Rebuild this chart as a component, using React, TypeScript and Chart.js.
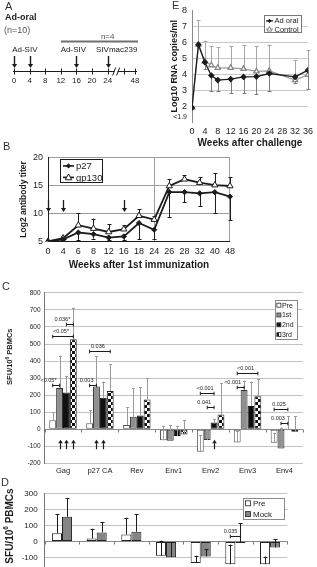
import React, { useEffect, useRef } from 'react';
import { Chart, registerables } from 'chart.js';

Chart.register(...registerables);

const FONT = '"Liberation Sans", Arial, sans-serif';
const INK = '#1c1c1c';
const CLEAR = 'rgba(0,0,0,0)';

/* ---------------- A: immunization schedule (weeks) ---------------- */
const scheduleTicks = [0, 4, 8, 12, 16, 20, 24, 48];
const adSivPrimeWeeks = [0, 4];
const adSivBoostWeek = 16;
const challengeWeek = 24;
const subgroupFromWeek = 12;
const lastWeek = 48;

/* ---------------- B: binding antibody titers ---------------- */
const weeksB = ['0', '4', '6', '8', '12', '16', '18', '24', '26', '28', '32', '40', '48'];
const p27Titer = [5.0, 5.4, 6.6, 6.3, 5.7, 5.9, 8.3, 7.1, 13.8, 13.8, 13.6, 13.8, 13.0];
const p27Lower = [null, null, 5.3, 5.5, 5.2, 5.3, 5.4, 5.5, 9.4, 12.0, 11.35, 10.1, 8.75];
const gp130Titer = [5.0, 5.6, 7.9, 7.3, 6.7, 7.2, 9.6, 8.9, 14.9, 16.1, 15.5, 15.05, 14.9];
const gp130Upper = [null, 6.0, 10.0, 9.1, 8.1, 7.9, 10.8, 9.6, 16.1, 16.8, 16.5, 17.2, 16.5];
const immunizationWeeksB = ['0', '4', '16'];

/* ---------------- C: ELISPOT after each immunization ---------------- */
const antigens = ['Gag', 'p27 CA', 'Rev', 'Env1', 'Env2', 'Env3', 'Env4'];
const sfuPre = [52, 35, 25, -65, -132, -78, -80];
const sfu1st = [242, 250, 73, -67, -63, 230, -113];
const sfu2nd = [216, 185, 80, -40, 40, 137, 2];
const sfu3rd = [528, 225, 174, -31, 87, 194, -15];
const sfuPreUpper = [100, 110, 130, 20, -36, -8, -20];
const sfu1stUpper = [432, 430, 240, 22, -5, 285, 10];
const sfu2ndUpper = [313, 280, 245, 20, 60, 280, 78];
const sfu3rdUpper = [713, 380, 300, 55, 271, 294, 75];
const comparisonsC = [
  { antigen: 0, a: 0, b: 1, level: 258, label: '<0.05*' },
  { antigen: 0, a: 0, b: 3, level: 545, label: '<0.05*' },
  { antigen: 0, a: 2, b: 3, level: 620, label: '0.036*' },
  { antigen: 1, a: 0, b: 1, level: 258, label: '0.003' },
  { antigen: 1, a: 0, b: 3, level: 460, label: '0.036' },
  { antigen: 4, a: 0, b: 2, level: 212, label: '<0.001' },
  { antigen: 4, a: 1, b: 2, level: 131, label: '0.041' },
  { antigen: 5, a: 0, b: 3, level: 327, label: '<0.001' },
  { antigen: 5, a: 0, b: 1, level: 246, label: '<0.001' },
  { antigen: 6, a: 0, b: 2, level: 119, label: '0.025' },
  { antigen: 6, a: 1, b: 2, level: 39, label: '0.003' },
];
// [antigen, immunization] pairs flagged with an arrow
const respondersC = [[0, 1], [0, 2], [0, 3], [1, 1], [1, 2], [4, 2]];

/* ---------------- D: mock-immunized controls ---------------- */
const sfuPreD = [51, 19, 44, -90, -135, -143, -143];
const sfuMockD = [155, 57, 61, -99, -95, -10, -38];
const sfuPreDUpper = [170, 80, 150, 5, -90, -20, -95];
const sfuMockDUpper = [273, 120, 170, -5, -50, 115, 15];
const comparisonsD = [{ antigen: 5, a: 0, b: 1, level: 36, label: '0.035' }];

/* ---------------- E: plasma viral load after challenge ---------------- */
const weeksE = [0, 2, 4, 6, 8, 12, 16, 20, 24, 32, 36];
const adOralLoad = [1.9, 5.85, 4.75, 3.92, 3.63, 3.69, 3.83, 3.85, 4.04, 3.83, 4.25];
const adOralLower = [null, null, 4.3, 2.95, 2.95, 2.8, 2.8, 2.75, 2.95, 3.45, 3.05];
const controlLoad = [1.9, 5.85, 4.8, 4.56, 4.4, 4.4, 4.33, 4.17, 4.21, 3.63, 3.96];
const controlUpper = [null, 7.4, 6.1, 5.75, 5.7, 5.75, 5.8, 5.75, 5.85, 4.9, 5.5];
const weekTicksE = [0, 4, 8, 12, 16, 20, 24, 28, 32, 36];
const loadTicksE = [1.3, 2, 3, 4, 5, 6, 7, 8];
const belowDetection = '<1.9';

/* ---------------- drawing helpers ---------------- */
const font = (size: number, bold = false) => `${bold ? 'bold ' : ''}${size}px ${FONT}`;

function drawArrow(ctx: CanvasRenderingContext2D, x: number, yFrom: number, yTo: number, halfW: number, head: number) {
  const dir = Math.sign(yTo - yFrom);
  ctx.beginPath();
  ctx.moveTo(x, yFrom);
  ctx.lineTo(x, yTo - dir * head);
  ctx.stroke();
  ctx.beginPath();
  ctx.moveTo(x, yTo);
  ctx.lineTo(x - halfW, yTo - dir * head);
  ctx.lineTo(x + halfW, yTo - dir * head);
  ctx.closePath();
  ctx.fill();
}

function drawDiamond(ctx: CanvasRenderingContext2D, x: number, y: number, r: number, fill: string) {
  ctx.beginPath();
  ctx.moveTo(x, y - r);
  ctx.lineTo(x + r, y);
  ctx.lineTo(x, y + r);
  ctx.lineTo(x - r, y);
  ctx.closePath();
  ctx.fillStyle = fill;
  ctx.fill();
}

function drawTriangle(ctx: CanvasRenderingContext2D, x: number, y: number, r: number, stroke: string) {
  ctx.beginPath();
  ctx.moveTo(x, y - r);
  ctx.lineTo(x + r * 0.95, y + r * 0.7);
  ctx.lineTo(x - r * 0.95, y + r * 0.7);
  ctx.closePath();
  ctx.fillStyle = '#fff';
  ctx.fill();
  ctx.strokeStyle = stroke;
  ctx.lineWidth = 1;
  ctx.stroke();
}

function legendBox(ctx: CanvasRenderingContext2D, x: number, y: number, w: number, h: number, border: string) {
  ctx.fillStyle = '#fff';
  ctx.fillRect(x, y, w, h);
  ctx.strokeStyle = border;
  ctx.lineWidth = 1;
  ctx.strokeRect(Math.round(x) + 0.5, Math.round(y) + 0.5, w - 1, h - 1);
}

function checkerPattern(ctx: CanvasRenderingContext2D, cell: number): CanvasPattern {
  const c = document.createElement('canvas');
  c.width = cell * 2;
  c.height = cell * 2;
  const g = c.getContext('2d')!;
  g.fillStyle = '#fff';
  g.fillRect(0, 0, cell * 2, cell * 2);
  g.fillStyle = '#111';
  g.fillRect(0, 0, cell, cell);
  g.fillRect(cell, cell, cell, cell);
  return ctx.createPattern(c, 'repeat')!;
}

function drawSfuTitle(ctx: CanvasRenderingContext2D, x: number, y: number, size: number) {
  ctx.save();
  ctx.translate(x, y);
  ctx.rotate(-Math.PI / 2);
  ctx.fillStyle = INK;
  ctx.textBaseline = 'middle';
  ctx.textAlign = 'left';
  const a = 'SFU/10';
  const b = '6';
  const c = ' PBMCs';
  ctx.font = font(size, true);
  const wa = ctx.measureText(a).width;
  const wc = ctx.measureText(c).width;
  ctx.font = font(size * 0.65, true);
  const wb = ctx.measureText(b).width;
  let x0 = -(wa + wb + wc) / 2;
  ctx.font = font(size, true);
  ctx.fillText(a, x0, 0);
  x0 += wa;
  ctx.font = font(size * 0.65, true);
  ctx.fillText(b, x0, -size * 0.35);
  x0 += wb;
  ctx.font = font(size, true);
  ctx.fillText(c, x0, 0);
  ctx.restore();
}

type ErrSpec = { dataset: number; ends: (number | null)[]; color: string; cap: number; width?: number };

function errorBars(id: string, specs: ErrSpec[], hook: 'beforeDatasetsDraw' | 'afterDatasetsDraw') {
  return {
    id,
    [hook](chart: any) {
      const ctx: CanvasRenderingContext2D = chart.ctx;
      const ys = chart.scales.y;
      ctx.save();
      specs.forEach((s) => {
        const meta = chart.getDatasetMeta(s.dataset);
        s.ends.forEach((end, i) => {
          if (end == null) return;
          const el = meta.data[i];
          const x = Math.round(el.x) + 0.5;
          const y1 = ys.getPixelForValue(end);
          ctx.strokeStyle = s.color;
          ctx.lineWidth = s.width ?? 1;
          ctx.beginPath();
          ctx.moveTo(x, el.y);
          ctx.lineTo(x, y1);
          ctx.moveTo(x - s.cap, Math.round(y1) + 0.5);
          ctx.lineTo(x + s.cap, Math.round(y1) + 0.5);
          ctx.stroke();
        });
      });
      ctx.restore();
    },
  };
}

type Comparison = { antigen: number; a: number; b: number; level: number; label: string };

function brackets(id: string, comps: Comparison[], size: number) {
  return {
    id,
    afterDatasetsDraw(chart: any) {
      const ctx: CanvasRenderingContext2D = chart.ctx;
      const ys = chart.scales.y;
      ctx.save();
      ctx.strokeStyle = INK;
      ctx.fillStyle = INK;
      ctx.lineWidth = 1;
      ctx.font = font(size);
      ctx.textBaseline = 'alphabetic';
      comps.forEach((c) => {
        const xa = chart.getDatasetMeta(c.a).data[c.antigen].x;
        const xb = chart.getDatasetMeta(c.b).data[c.antigen].x;
        const y = Math.round(ys.getPixelForValue(c.level)) + 0.5;
        ctx.beginPath();
        ctx.moveTo(xa, y);
        ctx.lineTo(xb, y);
        ctx.moveTo(xa, y - 1.8);
        ctx.lineTo(xa, y + 1.8);
        ctx.moveTo(xb, y - 1.8);
        ctx.lineTo(xb, y + 1.8);
        ctx.stroke();
        if (xb - xa > 12) {
          ctx.textAlign = 'center';
          ctx.fillText(c.label, (xa + xb) / 2 - 2, y - 3.5);
        } else {
          ctx.textAlign = 'right';
          ctx.fillText(c.label, xb - 3, y - 3.5);
        }
      });
      ctx.restore();
    },
  };
}

function zeroLineTicks(id: string, count: number) {
  return {
    id,
    beforeDatasetsDraw(chart: any) {
      const ctx: CanvasRenderingContext2D = chart.ctx;
      const { left, right } = chart.chartArea;
      const y0 = Math.round(chart.scales.y.getPixelForValue(0)) + 0.5;
      const step = (right - left) / count;
      ctx.save();
      ctx.strokeStyle = '#7a7a7a';
      ctx.lineWidth = 1;
      ctx.beginPath();
      for (let k = 0; k <= count; k++) {
        const x = Math.round(left + k * step) + 0.5;
        ctx.moveTo(x, y0);
        ctx.lineTo(x, y0 + 3);
      }
      ctx.stroke();
      ctx.restore();
    },
  };
}

const baseOptions = {
  animation: false,
  responsive: false,
  maintainAspectRatio: false,
  events: [],
  plugins: { legend: { display: false }, tooltip: { enabled: false } },
};

/* ---------------- A ---------------- */
const AXIS_BREAK = 26.3;
const AXIS_MINOR = 28.2;
const AXIS_END = 31;
const schedulePos = (w: number) => (w <= challengeWeek ? w : AXIS_END);

function makeA(): any {
  return {
    type: 'scatter',
    data: { datasets: [] },
    options: {
      ...baseOptions,
      layout: { padding: { left: 14, right: 25, top: 0, bottom: 0 } },
      scales: {
        x: { type: 'linear', display: false, min: 0, max: AXIS_END },
        y: { type: 'linear', display: false, min: 0, max: 1 },
      },
    },
    plugins: [
      {
        id: 'schedule',
        afterDraw(chart: any) {
          const ctx: CanvasRenderingContext2D = chart.ctx;
          const sx = chart.scales.x;
          const X = (w: number) => sx.getPixelForValue(schedulePos(w));
          const axisY = 71.5;
          ctx.save();
          ctx.textBaseline = 'middle';
          ctx.textAlign = 'left';
          ctx.fillStyle = INK;
          ctx.font = font(9, true);
          ctx.fillText('Ad-oral', 5, 18);
          ctx.font = font(9);
          ctx.fillStyle = '#555';
          ctx.fillText('(n=10)', 4, 30.5);

          ctx.strokeStyle = '#707070';
          ctx.lineWidth = 2.2;
          ctx.beginPath();
          ctx.moveTo(X(subgroupFromWeek), 41.5);
          ctx.lineTo(X(lastWeek) + 3, 41.5);
          ctx.stroke();
          ctx.font = font(8);
          ctx.textAlign = 'center';
          ctx.fillStyle = '#555';
          ctx.fillText('n=4', X(challengeWeek), 36.5);

          ctx.fillStyle = INK;
          ctx.fillText('Ad-SIV', (X(adSivPrimeWeeks[0]) + X(adSivPrimeWeeks[1])) / 2 + 3, 50);
          ctx.fillText('Ad-SIV', X(adSivBoostWeek) - 3, 50);
          ctx.fillText('SIVmac239', X(challengeWeek) + 9, 50);

          ctx.strokeStyle = INK;
          ctx.lineWidth = 1.4;
          [...adSivPrimeWeeks, adSivBoostWeek, challengeWeek].forEach((w) =>
            drawArrow(ctx, Math.round(X(w)) + 0.5, 56, 68, 2.6, 4)
          );

          ctx.lineWidth = 1;
          ctx.beginPath();
          ctx.moveTo(X(0) - 1, axisY);
          ctx.lineTo(X(lastWeek) + 2, axisY);
          ctx.stroke();
          ctx.beginPath();
          [...scheduleTicks.map(X), sx.getPixelForValue(AXIS_MINOR)].forEach((px) => {
            const x = Math.round(px) + 0.5;
            ctx.moveTo(x, axisY - 3);
            ctx.lineTo(x, axisY + 3);
          });
          ctx.stroke();

          const bx = sx.getPixelForValue(AXIS_BREAK);
          ctx.fillStyle = '#fff';
          ctx.fillRect(bx - 2, axisY - 1, 3, 2);
          ctx.beginPath();
          ctx.moveTo(bx - 4, axisY + 4);
          ctx.lineTo(bx - 1, axisY - 4);
          ctx.moveTo(bx, axisY + 4);
          ctx.lineTo(bx + 3, axisY - 4);
          ctx.stroke();

          ctx.fillStyle = INK;
          ctx.font = font(8);
          ctx.textAlign = 'center';
          scheduleTicks.forEach((w) => ctx.fillText(String(w), X(w), 80.5));
          ctx.restore();
        },
      },
    ],
  };
}

/* ---------------- B ---------------- */
function makeB(): any {
  const idx24 = weeksB.indexOf('24');
  return {
    type: 'line',
    data: {
      labels: weeksB,
      datasets: [
        {
          label: 'p27', data: p27Titer, borderColor: INK, borderWidth: 1.8,
          pointStyle: 'rectRot', pointRadius: 2.6, pointBackgroundColor: INK, pointBorderColor: INK, pointBorderWidth: 1,
        },
        {
          label: 'gp130', data: gp130Titer, borderColor: INK, borderWidth: 1.8,
          pointStyle: 'triangle', pointRadius: 3.6, pointBackgroundColor: '#fff', pointBorderColor: INK, pointBorderWidth: 1,
        },
      ],
    },
    options: {
      ...baseOptions,
      layout: { padding: { top: 10, right: 10, left: 0, bottom: 0 } },
      scales: {
        x: {
          type: 'category',
          offset: false,
          grid: {
            color: (c: any) => (c.index === idx24 || c.index === weeksB.length - 1 ? '#9c9c9c' : CLEAR),
            drawTicks: false,
          },
          border: { color: INK, width: 1 },
          ticks: { font: { family: FONT, size: 9 }, color: INK, padding: 5, autoSkip: false, maxRotation: 0 },
          title: {
            display: true, text: 'Weeks after 1st immunization', color: INK,
            font: { family: FONT, size: 10, weight: 'bold' }, padding: { top: 0, bottom: 2 },
          },
          afterFit: (s: any) => { s.height = 31.5; },
        },
        y: {
          min: 5, max: 20,
          ticks: { stepSize: 5, font: { family: FONT, size: 9 }, color: INK, padding: 5 },
          grid: { color: (c: any) => (c.tick && c.tick.value === 5 ? CLEAR : '#9c9c9c'), drawTicks: false },
          border: { color: INK },
          title: {
            display: true, text: 'Log2 antibody titer', color: INK,
            font: { family: FONT, size: 8.5, weight: 'bold' }, padding: { top: 19, bottom: 0 },
          },
          afterFit: (s: any) => { s.width = 48; },
        },
      },
    },
    plugins: [
      errorBars('bErr', [
        { dataset: 0, ends: p27Lower, color: INK, cap: 2 },
        { dataset: 1, ends: gp130Upper, color: INK, cap: 2 },
      ], 'beforeDatasetsDraw'),
      {
        id: 'bMarks',
        afterDraw(chart: any) {
          const ctx: CanvasRenderingContext2D = chart.ctx;
          const sx = chart.scales.x;
          const sy = chart.scales.y;
          ctx.save();
          ctx.strokeStyle = INK;
          ctx.fillStyle = INK;
          ctx.lineWidth = 1.3;
          immunizationWeeksB.forEach((w) => {
            const x = Math.round(sx.getPixelForValue(weeksB.indexOf(w))) + 0.5;
            drawArrow(ctx, x, sy.getPixelForValue(12.4), sy.getPixelForValue(10.25), 2.6, 4);
          });
          const { left, top } = chart.chartArea;
          const bx = left + 12;
          const by = top + 2;
          legendBox(ctx, bx, by, 43, 24, INK);
          const rows = [
            { label: 'p27', y: by + 6.5, filled: true },
            { label: 'gp130', y: by + 18, filled: false },
          ];
          rows.forEach((r) => {
            ctx.strokeStyle = INK;
            ctx.lineWidth = 1.6;
            ctx.beginPath();
            ctx.moveTo(bx + 3, r.y);
            ctx.lineTo(bx + 14, r.y);
            ctx.stroke();
            if (r.filled) drawDiamond(ctx, bx + 8.5, r.y, 2.6, INK);
            else drawTriangle(ctx, bx + 8.5, r.y, 3.4, INK);
            ctx.fillStyle = INK;
            ctx.font = font(9.5);
            ctx.textAlign = 'left';
            ctx.textBaseline = 'middle';
            ctx.fillText(r.label, bx + 16, r.y + 0.5);
          });
          ctx.restore();
        },
      },
    ],
  };
}

/* ---------------- C ---------------- */
function makeC(canvas: HTMLCanvasElement): any {
  const checker = checkerPattern(canvas.getContext('2d')!, 3);
  const bar = (label: string, data: number[], bg: any, border: string) => ({
    label, data, backgroundColor: bg, borderColor: border, borderWidth: 1, borderSkipped: false,
    categoryPercentage: 0.745, barPercentage: 1,
  });
  const legendRows = [
    { label: 'Pre', fill: '#fff' as any },
    { label: '1st', fill: '#8f8f8f' as any },
    { label: '2nd', fill: '#111' as any },
    { label: '3rd', fill: checker as any },
  ];
  return {
    type: 'bar',
    data: {
      labels: antigens,
      datasets: [
        bar('Pre', sfuPre, '#fff', '#555'),
        bar('1st', sfu1st, '#8f8f8f', '#333'),
        bar('2nd', sfu2nd, '#111', '#111'),
        bar('3rd', sfu3rd, checker, '#222'),
      ],
    },
    options: {
      ...baseOptions,
      layout: { padding: { top: 4, right: 14.1, left: 0, bottom: 0 } },
      scales: {
        x: {
          grid: { display: false, drawTicks: false },
          border: { display: false },
          ticks: { font: { family: FONT, size: 7.5 }, color: INK, padding: 3, autoSkip: false, maxRotation: 0 },
          afterFit: (s: any) => { s.height = 16.7; },
        },
        y: {
          min: -200, max: 800,
          ticks: { stepSize: 100, font: { family: FONT, size: 6.5 }, color: INK, padding: 4 },
          grid: { color: (c: any) => (c.tick && c.tick.value === 0 ? '#8a8a8a' : '#c2c2c2'), drawTicks: false },
          border: { color: '#777' },
          afterFit: (s: any) => { s.width = 44.55; },
        },
      },
    },
    plugins: [
      zeroLineTicks('cZero', antigens.length),
      errorBars('cErr', [
        { dataset: 0, ends: sfuPreUpper, color: '#9a9a9a', cap: 1.5 },
        { dataset: 1, ends: sfu1stUpper, color: '#9a9a9a', cap: 1.5 },
        { dataset: 2, ends: sfu2ndUpper, color: '#9a9a9a', cap: 1.5 },
        { dataset: 3, ends: sfu3rdUpper, color: '#9a9a9a', cap: 1.5 },
      ], 'afterDatasetsDraw'),
      brackets('cBrackets', comparisonsC, 5.5),
      {
        id: 'cMarks',
        afterDraw(chart: any) {
          const ctx: CanvasRenderingContext2D = chart.ctx;
          const y0 = chart.scales.y.getPixelForValue(0);
          ctx.save();
          ctx.strokeStyle = INK;
          ctx.fillStyle = INK;
          ctx.lineWidth = 1.2;
          respondersC.forEach(([ag, ds]) => {
            const x = Math.round(chart.getDatasetMeta(ds).data[ag].x) + 0.5;
            drawArrow(ctx, x, y0 + 20, y0 + 10.5, 2.3, 3.5);
          });
          const { right, top } = chart.chartArea;
          const bx = right - 28;
          const by = top + 7;
          legendBox(ctx, bx, by, 23, 40, '#8a8a8a');
          legendRows.forEach((r, i) => {
            const y = by + 5.3 + i * 9.8;
            ctx.fillStyle = r.fill;
            ctx.fillRect(bx + 2, y - 2, 4, 4);
            ctx.strokeStyle = '#333';
            ctx.lineWidth = 0.8;
            ctx.strokeRect(bx + 2, y - 2, 4, 4);
            ctx.fillStyle = INK;
            ctx.font = font(7);
            ctx.textAlign = 'left';
            ctx.textBaseline = 'middle';
            ctx.fillText(r.label, bx + 7, y + 0.5);
          });
          drawSfuTitle(ctx, 10, 71.7, 7.5);
          ctx.restore();
        },
      },
    ],
  };
}

/* ---------------- D ---------------- */
function makeD(): any {
  const bar = (label: string, data: number[], bg: string) => ({
    label, data, backgroundColor: bg, borderColor: '#222', borderWidth: 1, borderSkipped: false,
    categoryPercentage: 0.58, barPercentage: 1,
  });
  return {
    type: 'bar',
    data: {
      labels: antigens,
      datasets: [bar('Pre', sfuPreD, '#fff'), bar('Mock', sfuMockD, '#858585')],
    },
    options: {
      ...baseOptions,
      layout: { padding: { top: 4, right: 29.6, left: 0, bottom: 0 } },
      scales: {
        x: {
          grid: { display: false, drawTicks: false },
          border: { display: false },
          ticks: { font: { family: FONT, size: 8 }, color: INK, padding: 3, autoSkip: false, maxRotation: 0 },
          afterFit: (s: any) => { s.height = 18.8; },
        },
        y: {
          min: -200, max: 300,
          ticks: { stepSize: 100, font: { family: FONT, size: 8 }, color: INK, padding: 7 },
          grid: { color: (c: any) => (c.tick && c.tick.value === 0 ? '#8a8a8a' : '#c2c2c2'), drawTicks: false },
          border: { color: '#777' },
          afterFit: (s: any) => { s.width = 44.65; },
        },
      },
    },
    plugins: [
      zeroLineTicks('dZero', antigens.length),
      errorBars('dErr', [
        { dataset: 0, ends: sfuPreDUpper, color: INK, cap: 2 },
        { dataset: 1, ends: sfuMockDUpper, color: INK, cap: 2 },
      ], 'afterDatasetsDraw'),
      brackets('dBrackets', comparisonsD, 5.5),
      {
        id: 'dMarks',
        afterDraw(chart: any) {
          const ctx: CanvasRenderingContext2D = chart.ctx;
          const { right, top } = chart.chartArea;
          const bx = right - 44.4;
          const by = top + 4;
          ctx.save();
          legendBox(ctx, bx, by, 42, 22, '#8a8a8a');
          [{ label: 'Pre', fill: '#fff' }, { label: 'Mock', fill: '#858585' }].forEach((r, i) => {
            const y = by + 5.5 + i * 10.8;
            ctx.fillStyle = r.fill;
            ctx.fillRect(bx + 2.5, y - 2.5, 5, 5);
            ctx.strokeStyle = '#222';
            ctx.lineWidth = 0.8;
            ctx.strokeRect(bx + 2.5, y - 2.5, 5, 5);
            ctx.fillStyle = INK;
            ctx.font = font(8);
            ctx.textAlign = 'left';
            ctx.textBaseline = 'middle';
            ctx.fillText(r.label, bx + 10, y + 0.5);
          });
          drawSfuTitle(ctx, 10, 44, 10);
          ctx.restore();
        },
      },
    ],
  };
}

/* ---------------- E ---------------- */
function makeE(): any {
  const pts = (ys: number[]) => weeksE.map((w, i) => ({ x: w, y: ys[i] }));
  return {
    type: 'line',
    data: {
      datasets: [
        {
          label: 'Ad oral', data: pts(adOralLoad), borderColor: INK, borderWidth: 1.3,
          pointStyle: 'rectRot', pointRadius: 2.4, pointBackgroundColor: INK, pointBorderColor: INK,
        },
        {
          label: 'Control', data: pts(controlLoad), borderColor: '#9b9b9b', borderWidth: 1.3,
          pointStyle: 'triangle', pointRadius: 3, pointBackgroundColor: '#fff', pointBorderColor: '#858585',
        },
      ],
    },
    options: {
      ...baseOptions,
      layout: { padding: { top: 10, right: 5, left: 0, bottom: 0 } },
      scales: {
        x: {
          type: 'linear', min: 0, max: 36,
          afterBuildTicks: (s: any) => { s.ticks = weekTicksE.map((v) => ({ value: v })); },
          ticks: { font: { family: FONT, size: 9 }, color: INK, padding: 4, autoSkip: false, maxRotation: 0 },
          grid: { display: false, drawTicks: false },
          border: { display: false },
          title: {
            display: true, text: 'Weeks after challenge', color: INK,
            font: { family: FONT, size: 10, weight: 'bold' }, padding: { top: 0, bottom: 3 },
          },
          afterFit: (s: any) => { s.height = 30; },
        },
        y: {
          type: 'linear', min: 1, max: 8,
          afterBuildTicks: (s: any) => { s.ticks = loadTicksE.map((v) => ({ value: v })); },
          ticks: {
            callback: (v: any) => (v < 2 ? belowDetection : String(v)),
            font: (c: any) => ({ family: FONT, size: c.tick && c.tick.value < 2 ? 7 : 9 }),
            color: INK,
            padding: 5,
            autoSkip: false,
          },
          grid: {
            color: (c: any) => (c.tick && c.tick.value >= 2 && c.tick.value <= 7 ? '#c9c9c9' : CLEAR),
            drawTicks: false,
          },
          border: { color: '#8a8a8a' },
          title: {
            display: true, text: 'Log10 RNA copies/ml', color: INK,
            font: { family: FONT, size: 9, weight: 'bold' }, padding: { top: 9.5, bottom: 0 },
          },
          afterFit: (s: any) => { s.width = 32; },
        },
      },
    },
    plugins: [
      errorBars('eErr', [
        { dataset: 1, ends: controlUpper, color: '#a6a6a6', cap: 2 },
        { dataset: 0, ends: adOralLower, color: '#7c7c7c', cap: 2 },
      ], 'beforeDatasetsDraw'),
      {
        id: 'eLegend',
        afterDraw(chart: any) {
          const ctx: CanvasRenderingContext2D = chart.ctx;
          const { right, top } = chart.chartArea;
          const bx = right - 44;
          const by = top + 5;
          ctx.save();
          legendBox(ctx, bx, by, 38, 18, '#777');
          const rows = [
            { label: 'Ad oral', y: by + 5.5, filled: true },
            { label: 'Control', y: by + 13.8, filled: false },
          ];
          rows.forEach((r) => {
            ctx.strokeStyle = r.filled ? INK : '#9b9b9b';
            ctx.lineWidth = 1.2;
            ctx.beginPath();
            ctx.moveTo(bx + 2, r.y);
            ctx.lineTo(bx + 9, r.y);
            ctx.stroke();
            if (r.filled) drawDiamond(ctx, bx + 5.5, r.y, 2.2, INK);
            else drawTriangle(ctx, bx + 5.5, r.y, 2.6, '#858585');
            ctx.fillStyle = INK;
            ctx.font = font(7.5);
            ctx.textAlign = 'left';
            ctx.textBaseline = 'middle';
            ctx.fillText(r.label, bx + 10.5, r.y + 0.5);
          });
          ctx.restore();
        },
      },
    ],
  };
}

/* ---------------- components ---------------- */
type PanelProps = {
  left: number;
  top: number;
  width: number;
  height: number;
  make: (canvas: HTMLCanvasElement) => any;
};

function Panel({ left, top, width, height, make }: PanelProps) {
  const ref = useRef<HTMLCanvasElement>(null);
  useEffect(() => {
    const canvas = ref.current!;
    const chart = new Chart(canvas, make(canvas));
    return () => chart.destroy();
  }, [make]);
  return (
    <canvas
      ref={ref}
      width={width}
      height={height}
      style={{ position: 'absolute', left, top, width, height, display: 'block' }}
    />
  );
}

function PanelLetter({ text, left, top }: { text: string; left: number; top: number }) {
  return (
    <div
      style={{
        position: 'absolute', left, top, fontSize: 11, lineHeight: '11px',
        color: '#333', fontFamily: FONT,
      }}
    >
      {text}
    </div>
  );
}

export default function App() {
  return (
    <div
      style={{
        position: 'fixed', left: 0, top: 0, width: 317, height: 567,
        overflow: 'hidden', background: '#fff', fontFamily: FONT,
      }}
    >
      <Panel left={0} top={0} width={160} height={95} make={makeA} />
      <Panel left={160} top={0} width={157} height={152} make={makeE} />
      <Panel left={0} top={147} width={240} height={126} make={makeB} />
      <Panel left={0} top={285} width={317} height={195} make={makeC} />
      <Panel left={0} top={482} width={317} height={110} make={makeD} />
      <PanelLetter text="A" left={5} top={1} />
      <PanelLetter text="E" left={172} top={0} />
      <PanelLetter text="B" left={3} top={141} />
      <PanelLetter text="C" left={2} top={281} />
      <PanelLetter text="D" left={1} top={477} />
    </div>
  );
}
